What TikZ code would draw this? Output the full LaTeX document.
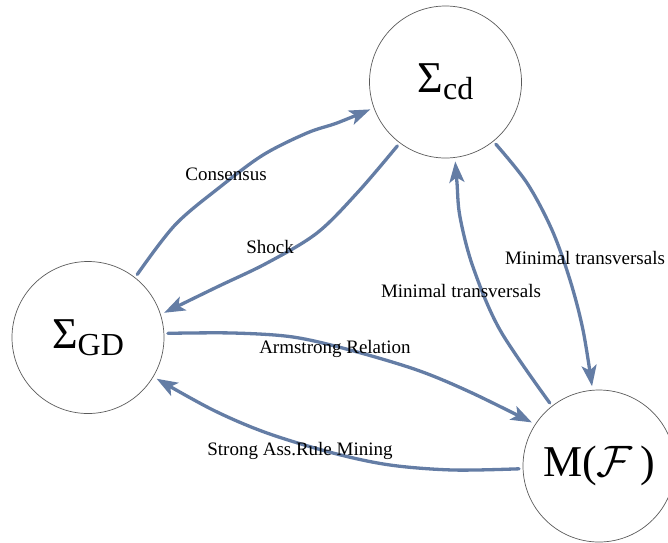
\RequirePackage{fix-cm}
\documentclass[tikz,border=0pt]{standalone}
\usepackage{fontspec}
\setmainfont{Liberation Serif}
\usetikzlibrary{arrows.meta}
\definecolor{edgeblue}{RGB}{100,125,165}
\definecolor{ringgray}{RGB}{90,90,90}
\begin{document}
\begin{tikzpicture}[x=1pt,y=-1pt,
  state/.style={circle,draw=ringgray,line width=0.7pt,minimum size=152pt,inner sep=0pt,outer sep=4pt},
  conn/.style={draw=edgeblue,line width=3.3pt,line join=round,line cap=round,-{Stealth[length=21pt,width=15pt,inset=5pt]}},
  lbl/.style={font=\fontsize{19}{19}\selectfont,inner sep=0pt}]
\useasboundingbox (0,0) rectangle (668,542);
\clip (0,0) rectangle (668,542);
\node[state] (cd) at (445.5,82) {\fontsize{44}{44}\selectfont Σ\raisebox{-7pt}{\fontsize{32}{32}\selectfont cd}};
\node[state] (gd) at (88,337.5) {\fontsize{44}{44}\selectfont Σ\raisebox{-7pt}{\fontsize{32}{32}\selectfont GD}};
\node[state] (mf) at (599,466) {\fontsize{44}{44}\selectfont M($\mathcal{F}$\,)};
% edges
\draw[conn] plot[smooth,tension=0.55] coordinates {(gd.52) (175,225) (220,187) (263,155) (307,133) (337,123) (cd.200)};
\draw[conn] plot[smooth,tension=0.55] coordinates {(cd.233) (358,192) (317,233) (267,263) (217,287) (gd.18)};
\draw[conn] plot[smooth,tension=0.55] coordinates {(mf.128) (500,330) (473,267) (460,217) (457,183) (cd.-83)};
\draw[conn] plot[smooth,tension=0.55] coordinates {(cd.-51) (527,183) (552,230) (570,280) (583,330) (mf.95)};
\draw[conn] plot[smooth,tension=0.55] coordinates {(gd.3) (233,333) (293,337) (350,350) (417,370) (470,392) (mf.147)};
\draw[conn] plot[smooth,tension=0.55] coordinates {(mf.182) (453,470) (390,465) (333,453) (267,433) (213,410) (gd.-31)};
% labels
\node[lbl] (l1) at (226,174) {Consensus};
\node[lbl] (l2) at (270,247) {Shock};
\node[lbl] (l3) at (461,291) {Minimal transversals};
\node[lbl] (l4) at (585,258) {Minimal transversals};
\node[lbl] (l5) at (335,349) {Armstrong Relation};
\node[lbl] (l6) at (300,451) {Strong Ass.Rule Mining};
\end{tikzpicture}
\end{document}
